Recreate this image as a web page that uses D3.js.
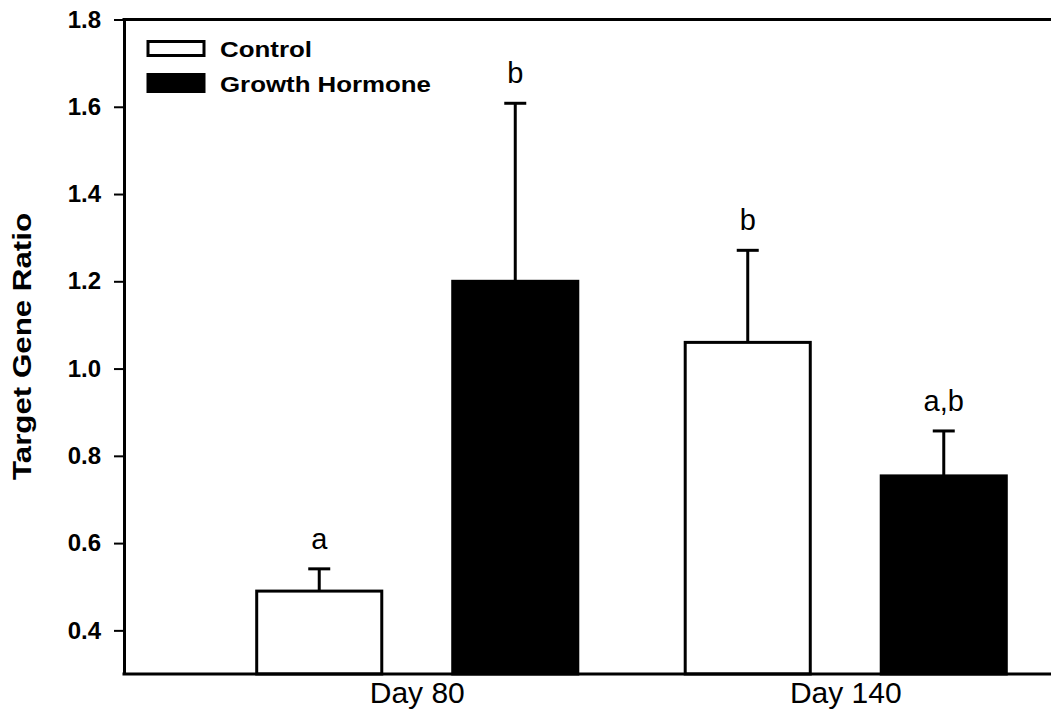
<!DOCTYPE html>
<html>
<head>
<meta charset="utf-8">
<script src="https://cdn.jsdelivr.net/npm/d3@7"></script>
<style>
  html, body { margin: 0; padding: 0; background: #fff; }
  svg { display: block; font-family: "Liberation Sans", Arial, sans-serif; }
</style>
</head>
<body>
<div id="chart"></div>
<script>
// data
const days = ["Day 80", "Day 140"];
const groups = ["Control", "Growth Hormone"];
const controlMeans = [0.49, 1.06];
const controlErrors = [0.051, 0.211];
const ghMeans = [1.20, 0.754];
const ghErrors = [0.408, 0.103];
const controlLetters = ["a", "b"];
const ghLetters = ["b", "a,b"];
const yTicks = [0.4, 0.6, 0.8, 1.0, 1.2, 1.4, 1.6, 1.8];

const W = 1051, H = 713;
const theme = {
    fills: { "Control": "#fff", "Growth Hormone": "#000" },
    stroke: "#000",
    axisWidth: 3,
    barStroke: 3
};

const rows = [];
days.forEach((day, i) => {
    rows.push({ day, group: "Control", mean: controlMeans[i], err: controlErrors[i], letter: controlLetters[i] });
    rows.push({ day, group: "Growth Hormone", mean: ghMeans[i], err: ghErrors[i], letter: ghLetters[i] });
});

const svg = d3.select("#chart").append("svg")
    .attr("width", W)
    .attr("height", H);

const plot = { left: 124, right: W + 10, top: 19.5, bottom: 674 };

const y = d3.scaleLinear()
    .domain([0.3, 1.8])
    .range([plot.bottom, plot.top]);

const x0 = d3.scaleBand()
    .domain(days)
    .range([203, 1060]);

const x1 = d3.scaleBand()
    .domain(groups)
    .range([0, x0.bandwidth()])
    .paddingInner(0.362)
    .paddingOuter(0.274);

// bars
const barG = svg.append("g");
barG.selectAll("rect")
    .data(rows)
    .join("rect")
    .attr("x", d => x0(d.day) + x1(d.group))
    .attr("y", d => y(d.mean))
    .attr("width", x1.bandwidth())
    .attr("height", d => y(0.3) - y(d.mean))
    .style("fill", d => theme.fills[d.group])
    .style("stroke", theme.stroke)
    .style("stroke-width", theme.barStroke);

// error bars (upper only)
const cx = d => x0(d.day) + x1(d.group) + x1.bandwidth() / 2;
const errG = svg.append("g").style("stroke", "#000").style("stroke-width", 3);
errG.selectAll("line.stem")
    .data(rows)
    .join("line")
    .attr("class", "stem")
    .attr("x1", cx).attr("x2", cx)
    .attr("y1", d => y(d.mean))
    .attr("y2", d => y(d.mean + d.err));
errG.selectAll("line.cap")
    .data(rows)
    .join("line")
    .attr("class", "cap")
    .attr("x1", d => cx(d) - 11).attr("x2", d => cx(d) + 11)
    .attr("y1", d => y(d.mean + d.err))
    .attr("y2", d => y(d.mean + d.err));

// significance letters
svg.append("g").selectAll("text")
    .data(rows)
    .join("text")
    .attr("x", cx)
    .attr("y", d => y(d.mean + d.err) - 20)
    .style("text-anchor", "middle")
    .style("font-size", "29px")
    .text(d => d.letter);

// y axis
const yAxis = svg.append("g")
    .attr("transform", `translate(${plot.left},0)`)
    .call(d3.axisLeft(y).tickValues(yTicks).tickSize(10).tickSizeOuter(0).tickPadding(13)
        .tickFormat(d3.format(".1f")));
yAxis.select(".domain").style("stroke-width", theme.axisWidth);
yAxis.selectAll(".tick line").style("stroke-width", 2);
yAxis.selectAll(".tick text")
    .style("font-size", "24px")
    .style("font-weight", "bold")
    .style("font-family", "Liberation Sans, Arial, sans-serif")
    .attr("fill", "#000");

// top and bottom frame lines
svg.append("line")
    .attr("x1", plot.left - 1.5).attr("x2", W)
    .attr("y1", plot.bottom).attr("y2", plot.bottom)
    .style("stroke", "#000").style("stroke-width", theme.axisWidth);
svg.append("line")
    .attr("x1", plot.left - 1.5).attr("x2", W)
    .attr("y1", plot.top).attr("y2", plot.top)
    .style("stroke", "#000").style("stroke-width", theme.axisWidth);

// x axis labels
const xAxis = svg.append("g")
    .attr("transform", `translate(0,${plot.bottom})`)
    .call(d3.axisBottom(x0).tickSize(0).tickPadding(8));
xAxis.select(".domain").remove();
xAxis.selectAll(".tick text")
    .style("font-size", "30px")
    .style("font-family", "Liberation Sans, Arial, sans-serif")
    .attr("fill", "#000")
    .attr("dy", "0.71em");

// y axis title
svg.append("text")
    .attr("transform", `translate(31,346.5) rotate(-90)`)
    .style("text-anchor", "middle")
    .style("font-size", "25px")
    .style("font-weight", "bold")
    .attr("textLength", 267)
    .attr("lengthAdjust", "spacingAndGlyphs")
    .text("Target Gene Ratio");

// legend
const legend = svg.append("g").attr("transform", "translate(148,0)");
const legendRows = [
    { name: "Control", cy: 48.5, h: 14, textLen: 92, base: 57 },
    { name: "Growth Hormone", cy: 83, h: 17, textLen: 211, base: 92 }
];
legend.selectAll("rect")
    .data(legendRows)
    .join("rect")
    .attr("x", 0)
    .attr("y", d => d.cy - d.h / 2)
    .attr("width", 56)
    .attr("height", d => d.h)
    .style("fill", d => theme.fills[d.name])
    .style("stroke", "#000")
    .style("stroke-width", 3);
legend.selectAll("text")
    .data(legendRows)
    .join("text")
    .attr("x", 72)
    .attr("y", d => d.base)
    .style("font-size", "22px")
    .style("font-weight", "bold")
    .attr("textLength", d => d.textLen)
    .attr("lengthAdjust", "spacingAndGlyphs")
    .text(d => d.name);
</script>
</body>
</html>
